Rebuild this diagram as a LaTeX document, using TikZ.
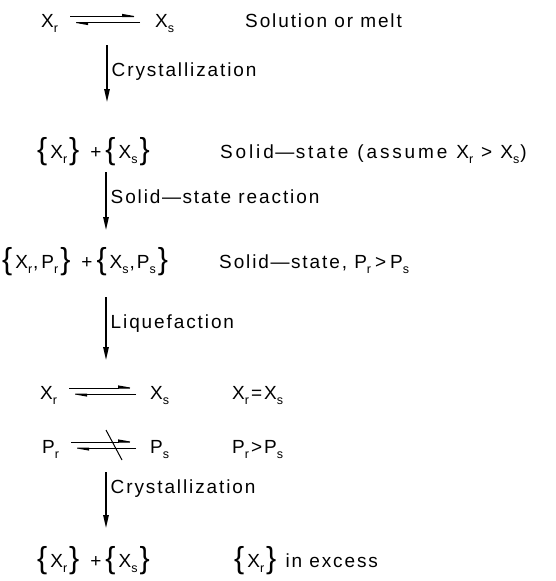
\documentclass[tikz,border=0pt]{standalone}
\usepackage{fontspec}
\setmainfont{Liberation Sans}[LetterSpace=10]
\usetikzlibrary{positioning,arrows.meta}
\newcommand{\sub}[1]{\raisebox{-0.55ex}{\fontsize{12.5}{12}\selectfont #1}}
\newcommand{\lb}{\raisebox{-1.5pt}{\scalebox{1.6}[1.6]{\{}}\kern3pt}
\newcommand{\rb}{\kern2pt\raisebox{-1.5pt}{\scalebox{1.6}[1.6]{\}}}}
\newcommand{\plus}{\kern11pt+\kern4pt}
\newcommand{\dash}{\kern1.5pt—\kern1.5pt}
\tikzset{
  chem/.style={anchor=base west, inner sep=0pt, font=\fontsize{19}{22}\selectfont},
  flow/.style={-{Triangle[length=13pt,width=5.5pt]}, line width=1.4pt},
  flowlbl/.style={right, inner sep=4pt, font=\fontsize{19}{22}\selectfont},
  harp/.style={-{Stealth[left,length=15pt,width=5pt,inset=0pt]}, line width=1pt},
  slash/.style={line width=1pt},
}
\begin{document}
\begin{tikzpicture}[x=1pt,y=-1pt]
\useasboundingbox (0,0) rectangle (555,581);
% solution
\node[chem] (xr1) at (41,27) {X\sub{r}};
\node[chem] (xs1) at (155,27) {X\sub{s}};
\node[chem] (n1) at (245,27) {Solution or melt};
\draw[harp] ([xshift=12pt,yshift=10.5pt]xr1.base east) -- ([xshift=-15pt,yshift=10.5pt]xs1.base west);
\draw[harp] ([xshift=-15pt,yshift=4.5pt]xs1.base west) -- ([xshift=12pt,yshift=4.5pt]xr1.base east);
% solid state
\node[chem] (s2) at (37,158) {\lb X\sub{r}\rb\plus\lb X\sub{s}\rb};
\node[chem] (n2) at (220,158) {\addfontfeature{LetterSpace=15}\spaceskip=9pt
  Solid\dash state (assume X\sub{r}\kern8pt>\kern8pt X\sub{s}\kern1pt)};
\node[chem] (s3) at (2,268) {\lb X\sub{r}\kern1pt,\kern3ptP\sub{r}\rb\plus\lb X\sub{s}\kern1pt,\kern2ptP\sub{s}\rb};
\node[chem] (n3) at (219,268) {Solid\dash state\kern2pt, P\sub{r}\kern4pt>\kern4pt P\sub{s}};
% melt again
\node[chem] (xr4) at (40,399) {X\sub{r}};
\node[chem] (xs4) at (150,399) {X\sub{s}};
\node[chem] (n4) at (232,399) {X\sub{r}\kern2pt=\kern2ptX\sub{s}};
\draw[harp] ([xshift=12pt,yshift=11pt]xr4.base east) -- ([xshift=-14pt,yshift=11pt]xs4.base west);
\draw[harp] ([xshift=-14pt,yshift=5pt]xs4.base west) -- ([xshift=12pt,yshift=5pt]xr4.base east);
\node[chem] (pr4) at (42,453) {P\sub{r}};
\node[chem] (ps4) at (150,453) {P\sub{s}};
\node[chem] (n5) at (232,453) {P\sub{r}\kern2pt>\kern2ptP\sub{s}};
\draw[harp] ([xshift=12pt,yshift=11pt]pr4.base east) -- ([xshift=-14pt,yshift=11pt]ps4.base west);
\draw[harp] ([xshift=-14pt,yshift=5pt]ps4.base west) -- ([xshift=12pt,yshift=5pt]pr4.base east);
\coordinate (cut) at (114,445);
\draw[slash] ([shift={(-8pt,15pt)}]cut) -- ([shift={(8pt,-15pt)}]cut);
% final
\node[chem] (s6) at (37,567) {\lb X\sub{r}\rb\plus\lb X\sub{s}\rb};
\node[chem] (n6) at (234,567) {\lb X\sub{r}\rb\kern2pt\ in excess};
% steps
\coordinate (a1) at (107,45);  \coordinate (b1) at (107,102);
\coordinate (a2) at (106,172); \coordinate (b2) at (106,230);
\coordinate (a3) at (106,297); \coordinate (b3) at (106,360);
\coordinate (a4) at (106,472); \coordinate (b4) at (106,528);
\draw[flow] (a1) -- node[flowlbl,pos=0.47] {Crystallization} (b1);
\draw[flow] (a2) -- node[flowlbl,pos=0.42] {Solid\dash state reaction} (b2);
\draw[flow] (a3) -- node[flowlbl,pos=0.42] {Liquefaction} (b3);
\draw[flow] (a4) -- node[flowlbl,pos=0.3] {Crystallization} (b4);
\end{tikzpicture}
\end{document}
